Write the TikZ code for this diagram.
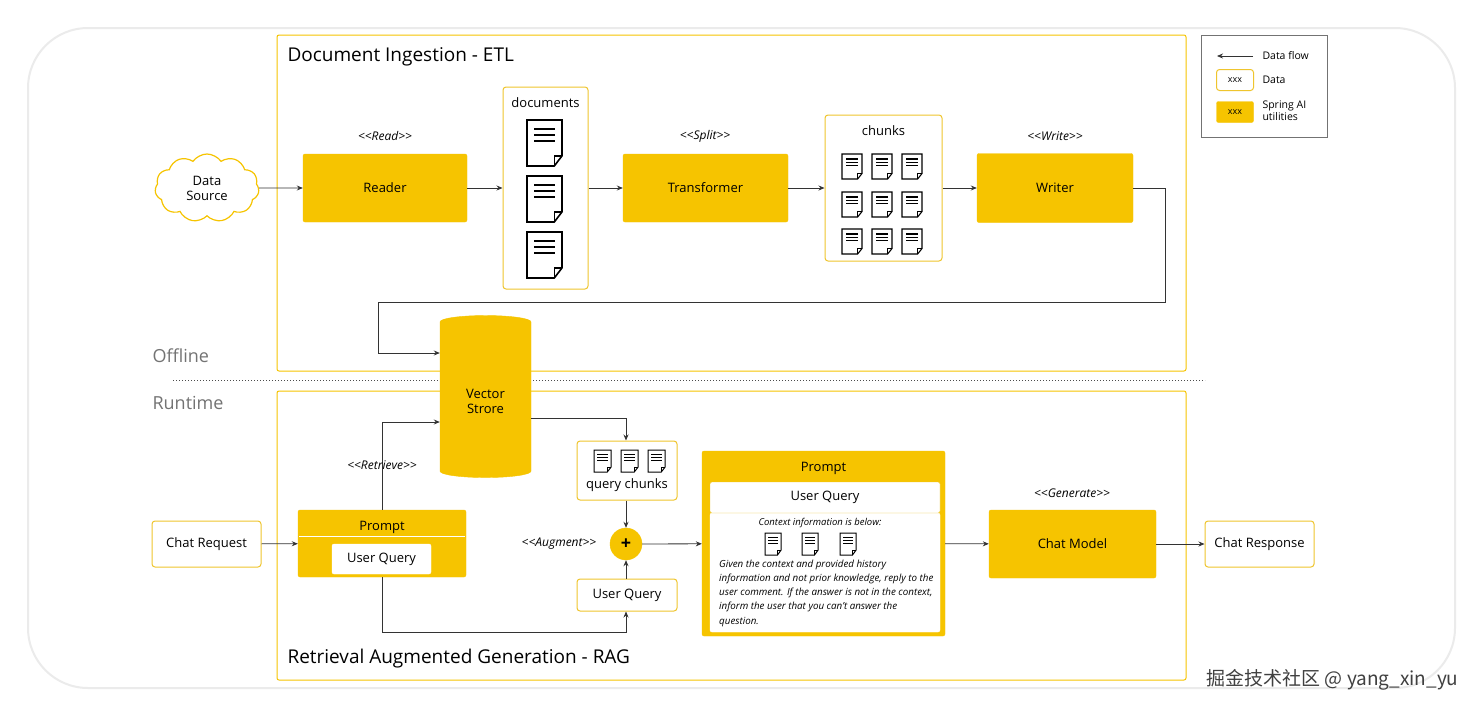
\documentclass[tikz,border=0pt]{standalone}
\usepackage{fontspec}
\setmainfont{Open Sans}
\newfontfamily\cjk{Noto Sans CJK SC}
\usetikzlibrary{shapes.geometric,shapes.symbols,arrows.meta}
\definecolor{sy}{HTML}{F6C400}
\definecolor{sb}{HTML}{EFC52E}
\tikzset{
 x=1pt,y=-1pt,
 util/.style={draw=sy,fill=sy,rounded corners=2pt,minimum width=#1,font=\fontsize{13}{15}\selectfont},
 data/.style={draw=sb,line width=1pt,fill=white,rounded corners=3pt,font=\fontsize{13}{15}\selectfont},
 lbl/.style={font=\fontsize{12}{14}\selectfont\itshape},
 flow/.style={-{Stealth[length=6pt,width=5pt]},line width=0.8pt,black!80},
 frame/.style={draw=sy,line width=1pt,rounded corners=2pt},
 pics/doc/.style={code={
  \draw[line width=#1,fill=white] (0,0)--(1,0)--(1,0.78)--(0.78,1)--(0,1)--cycle;
  \draw[line width=#1] (1,0.78)--(0.78,0.78)--(0.78,1);
  \foreach \yy in {0.2,0.33,0.46} \draw[line width=#1] (0.2,\yy)--(0.8,\yy);
 }}
}
\newcommand\docicon[5]{\begin{scope}[shift={(#1,#2)},x=#3pt,y=-#4pt]\pic{doc={#5}};\end{scope}}
\begin{document}
\begin{tikzpicture}
\useasboundingbox (0,0) rectangle (1483,715);
\draw[black!8,line width=2pt,rounded corners=60pt,fill=white] (28,28) rectangle (1455,688);
% frames
\draw[frame] (277,35) rectangle (1186,371);
\node[anchor=west,font=\fontsize{19}{22}\selectfont] (t1) at (284,57) {Document Ingestion - ETL};
\draw[frame] (277,391) rectangle (1186,680);
\node[anchor=west,font=\fontsize{19}{22}\selectfont] (t2) at (284,659) {Retrieval Augmented Generation - RAG};
\draw[black!70,dotted,line width=1pt] (173,380)--(1205,380);
\node[anchor=west,font=\fontsize{18}{21}\selectfont,black!55] (off) at (149,356) {Offline};
\node[anchor=west,font=\fontsize{18}{21}\selectfont,black!55] (run) at (149,403) {Runtime};
% legend
\draw[black!55,line width=0.8pt] (1201,35) rectangle (1327,137);
\coordinate (la) at (1253,56); \coordinate (lb) at (1217,56);
\draw[flow] (la)--(lb);
\node[anchor=west,font=\fontsize{10.5}{12}\selectfont] (l1) at (1259,56) {Data flow};
\node[data,minimum width=37pt,minimum height=21pt,font=\fontsize{9}{10}\selectfont] (l2) at (1235,80) {xxx};
\node[anchor=west,font=\fontsize{10.5}{12}\selectfont] (l2t) at (1259,80) {Data};
\node[util=37pt,minimum height=21pt,font=\fontsize{9}{10}\selectfont] (l3) at (1235,112) {xxx};
\node[anchor=west,align=left,font=\fontsize{10.5}{12}\selectfont] (l3t) at (1259,111) {Spring AI\\utilities};
% ETL
\node[cloud,cloud puffs=11,cloud puff arc=110,aspect=1.6,draw=sy,line width=1.2pt,fill=white,minimum width=104pt,minimum height=68pt,align=center,font=\fontsize{13}{15}\selectfont] (src) at (207,188) {Data\\Source};
\node[util=164pt,minimum height=68pt] (reader) at (385,188) {Reader};
\node[lbl] (rd) at (385,136) {<{}<Read>{}>};
\node[data,minimum width=85pt,minimum height=202pt] (docs) at (545.5,188) {};
\node[font=\fontsize{13}{15}\selectfont] (docst) at (545.5,103) {documents};
\foreach \yy in {120,176,232} {\docicon{527}{\yy}{35}{46}{1.6pt}}
\node[util=165pt,minimum height=68pt] (trans) at (705.5,188) {Transformer};
\node[lbl] (sp) at (705,136) {<{}<Split>{}>};
\node[data,minimum width=117pt,minimum height=146pt] (chunks) at (883.5,188) {};
\node[font=\fontsize{13}{15}\selectfont] (chunkst) at (883.5,131) {chunks};
\foreach \xx in {842,872,902} \foreach \yy in {154,192,229} {\docicon{\xx}{\yy}{20}{25}{1.1pt}}
\node[util=156pt,minimum height=69pt] (writer) at (1055,188) {Writer};
\node[lbl] (wr) at (1055,136) {<{}<Write>{}>};
\node[cylinder,shape border rotate=90,aspect=0.28,draw=sy,fill=sy,minimum width=91pt,minimum height=162pt,align=center,font=\fontsize{13}{15}\selectfont] (vs) at (485.5,401) {Vector\\Strore};
\draw[flow] (src)--(reader);
\draw[flow] (reader)--(docs);
\draw[flow] (docs)--(trans);
\draw[flow] (trans)--(chunks);
\draw[flow] (chunks)--(writer);
\draw[flow] (writer.east)--(1165,188)--(1165,302)--(378,302)--(378,353)--(vs.west|-0,353);
% RAG
\node[data,minimum width=109pt,minimum height=46pt] (creq) at (206.5,544) {Chat Request};
\node[util=168pt,minimum height=67pt] (p1) at (382,543.5) {};
\node[font=\fontsize{13}{15}\selectfont] (p1t) at (382,527) {Prompt};
\draw[white,line width=1pt] (299,536)--(465,536);
\node[draw=white,fill=white,rounded corners=2pt,minimum width=99pt,minimum height=30pt,font=\fontsize{13}{15}\selectfont] (p1q) at (381.5,559) {User Query};
\draw[flow] (creq)--(p1);
\draw[flow] (p1.north)--(382,422)--(vs.west|-0,422);
\node[lbl] (ret) at (382,465) {<{}<Retrieve>{}>};
\node[data,minimum width=100pt,minimum height=59pt] (qc) at (627,470.5) {};
\node[font=\fontsize{13}{15}\selectfont] (qct) at (627,485) {query chunks};
\foreach \xx in {594,621,648} {\docicon{\xx}{450}{17}{22}{1pt}}
\draw[flow] (vs.east|-0,418)--(626,418)--(qc.north-|626,0);
\node[circle,fill=sy,draw=sy,minimum size=32pt,inner sep=0pt,font=\fontsize{18}{18}\selectfont\bfseries] (plus) at (626,544) {+};
\node[lbl] (aug) at (559,544) {<{}<Augment>{}>};
\node[data,minimum width=100pt,minimum height=32pt] (uq) at (627,595) {User Query};
\draw[flow] (qc.south-|626,0)--(plus);
\draw[flow] (uq.north-|626,0)--(plus);
\draw[flow] (p1.south)--(382,632)--(626,632)--(uq.south-|626,0);
\node[util=243pt,minimum height=185pt] (p2) at (823.5,543.5) {};
\node[font=\fontsize{13}{15}\selectfont] (p2t) at (823.5,468) {Prompt};
\draw[white,fill=white,rounded corners=2pt] (710,513) rectangle (940,632);
\node[draw=sb,fill=white,rounded corners=2pt,minimum width=230pt,minimum height=31pt,font=\fontsize{13}{15}\selectfont] (p2q) at (825,497.5) {User Query};
\node[font=\fontsize{9.5}{11}\selectfont\itshape] (ctx) at (820,523) {Context information is below:};
\foreach \xx in {765,802,840} {\docicon{\xx}{533}{16}{22}{1pt}}
\node[anchor=north west,align=left,inner sep=0pt,font=\fontsize{9.8}{14.1}\selectfont\itshape] (body) at (719,560) {Given the context and provided history\\information and not prior knowledge, reply to the\\user comment. If the answer is not in the context,\\inform the user that you can't answer the\\question.};
\draw[flow] (plus)--(p2);
\node[util=167pt,minimum height=68pt] (cm) at (1072.5,544) {Chat Model};
\node[lbl] (gen) at (1072,493) {<{}<Generate>{}>};
\node[data,minimum width=109pt,minimum height=46pt] (cres) at (1259.5,544) {Chat Response};
\draw[flow] (p2)--(cm);
\draw[flow] (cm)--(cres);
\node[anchor=east,font=\cjk\fontsize{19}{22}\selectfont,black!75] (wm) at (1462,680) {掘金技术社区 @ yang\_xin\_yu};
\end{tikzpicture}
\end{document}
